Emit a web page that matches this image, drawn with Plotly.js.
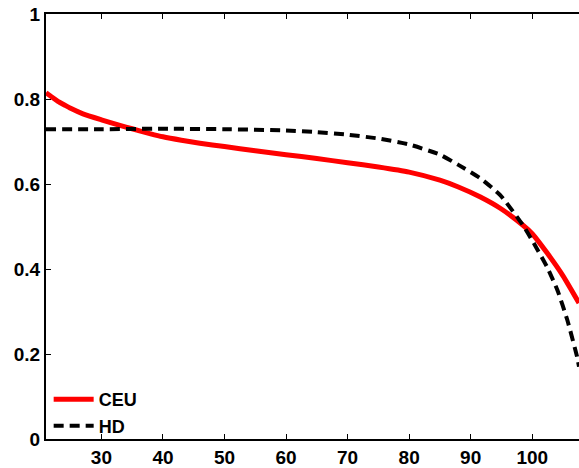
<!DOCTYPE html>
<html>
<head>
<meta charset="utf-8">
<script src="https://cdn.plot.ly/plotly-3.0.1.min.js"></script>
<style>html,body{margin:0;padding:0;background:#fff;}#chart{width:579px;height:468px;}</style>
</head>
<body>
<div id="chart"></div>
<script>
var ceuX = [21, 22, 23, 24, 25, 27, 30, 33, 35, 38, 40, 43, 46, 50, 55, 60, 65, 70, 75, 80, 85, 88, 91.5, 94.8, 98.5, 100, 102.4, 105, 107.6];
var ceuY = [0.815, 0.804, 0.794, 0.786, 0.778, 0.765, 0.751, 0.738, 0.730, 0.718, 0.711, 0.703, 0.696, 0.688, 0.678, 0.669, 0.660, 0.650, 0.640, 0.628, 0.609, 0.593, 0.570, 0.543, 0.503, 0.483, 0.438, 0.384, 0.32];
var hdX = [21, 30, 40, 50, 60, 65, 70, 75, 80, 85, 88, 91.5, 94.8, 98.5, 100.6, 102.4, 104.1, 105.7, 107.3, 107.6];
var hdY = [0.729, 0.729, 0.730, 0.729, 0.726, 0.722, 0.716, 0.707, 0.693, 0.669, 0.645, 0.614, 0.574, 0.503, 0.452, 0.405, 0.35, 0.28, 0.193, 0.17];
var xTicks = [30, 40, 50, 60, 70, 80, 90, 100];
var yTicks = [0, 0.2, 0.4, 0.6, 0.8, 1];
var yTickText = ['0', '0.2', '0.4', '0.6', '0.8', '1'];

var font = {family: 'Liberation Sans, Arial, sans-serif', size: 19, color: '#000', weight: 'bold'};
var legFont = {family: 'Liberation Sans, Arial, sans-serif', size: 18, color: '#000', weight: 'bold'};

var traces = [
  {x: ceuX, y: ceuY, name: 'CEU', mode: 'lines', line: {color: '#ff0000', width: 5, shape: 'spline', smoothing: 0.5}},
  {x: hdX, y: hdY, name: 'HD', mode: 'lines', line: {color: '#000000', width: 4, dash: '10px,6px', shape: 'spline', smoothing: 0.5}}
];

var layout = {
  width: 579, height: 468,
  margin: {l: 46, r: 0, t: 14, b: 29},
  paper_bgcolor: '#fff', plot_bgcolor: '#fff',
  font: font,
  showlegend: true,
  legend: {x: 0.005, y: -0.012, xanchor: 'left', yanchor: 'bottom', bgcolor: 'rgba(0,0,0,0)', font: legFont, tracegroupgap: 0, itemwidth: 40},
  xaxis: {
    range: [21, 107.6], tickvals: xTicks, ticks: 'inside', ticklen: 5, tickwidth: 1, tickcolor: '#000',
    showline: true, linecolor: '#000', linewidth: 2, mirror: 'ticks', showgrid: false, zeroline: false,
    tickfont: font
  },
  yaxis: {
    range: [0, 1], tickvals: yTicks, ticktext: yTickText, ticks: 'inside', ticklen: 5, tickwidth: 1, tickcolor: '#000',
    showline: true, linecolor: '#000', linewidth: 2, showgrid: false, zeroline: false,
    tickfont: font
  }
};

Plotly.newPlot('chart', traces, layout, {displayModeBar: false, staticPlot: true});
</script>
</body>
</html>
